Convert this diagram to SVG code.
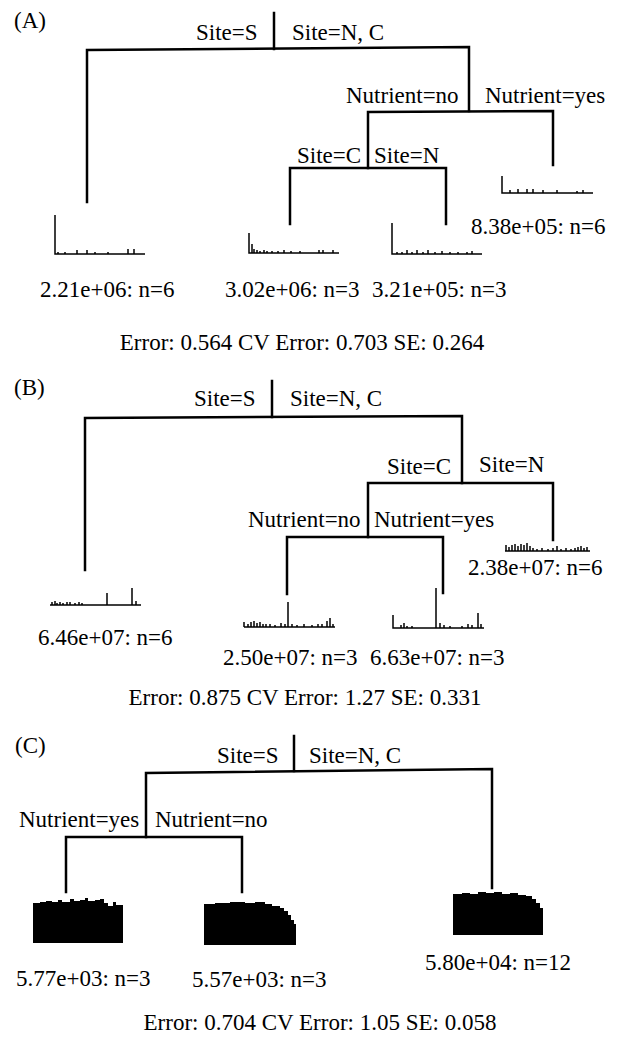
<svg xmlns="http://www.w3.org/2000/svg" width="619" height="1041" viewBox="0 0 619 1041">
<style>
.e{stroke:#000;stroke-width:2.5;fill:none;stroke-linecap:square;stroke-linejoin:miter}
.h{stroke:#000;stroke-width:1.5;fill:none}
.b{fill:#000;stroke:none}
.t{font-family:"Liberation Serif","Times New Roman",serif;font-size:23px;fill:#000}
.m{text-anchor:middle}
</style>
<rect width="619" height="1041" fill="#fff"/>

<!-- Panel A -->
<g id="panelA">
<text class="t" x="14" y="28">(A)</text>
<g id="connectorsA">
<path class="e" d="M274,13 V49"/>
<path class="e" d="M87,202 V50 L469,47 V111"/>
<path class="e" d="M368,168 V112 L553,111 V165"/>
<path class="e" d="M290,224 V168 H446 V224"/>
</g>
<g id="A_split1"><text class="t" x="196" y="40">Site=S</text><text class="t" x="292" y="40">Site=N, C</text></g>
<g id="A_split2"><text class="t" x="346" y="103">Nutrient=no</text><text class="t" x="485" y="103">Nutrient=yes</text></g>
<g id="A_split3"><text class="t" x="297" y="163">Site=C</text><text class="t" x="374" y="163">Site=N</text></g>
<g id="A_leaf1">
<path class="h" d="M55,215 V254 H145 M58,254 v-2 M65,254 v-2 M77,254 v-4 M87,254 v-4 M95,254 v-2 M108,254 v-2 M128,254 v-5 M134,254 v-5"/>
<text class="t" x="40" y="297">2.21e+06: n=6</text>
</g>
<g id="A_leaf2">
<path class="h" d="M249,233 V253 H339 M252,253 v-9 M254,253 v-4 M257,253 v-3 M260,253 v-2 M264,253 v-3 M267,253 v-2 M272,253 v-2 M278,253 v-2 M284,253 v-3 M291,253 v-2 M300,253 v-2 M319,253 v-3 M323,253 v-3 M333,253 v-3"/>
<text class="t" x="225" y="297">3.02e+06: n=3</text>
</g>
<g id="A_leaf3">
<path class="h" d="M392,223 V254 H482 M397,254 v-2 M402,254 v-2 M407,254 v-4 M412,254 v-2 M417,254 v-4 M423,254 v-2 M428,254 v-4 M435,254 v-2 M442,254 v-3 M450,254 v-2 M458,254 v-2 M467,254 v-2 M472,254 v-3"/>
<text class="t" x="372" y="297">3.21e+05: n=3</text>
</g>
<g id="A_leaf4">
<path class="h" d="M502,176 V193 H593 M510,193 v-3 M518,193 v-4 M527,193 v-4 M533,193 v-4 M543,193 v-3 M557,193 v-3 M577,193 v-2 M583,193 v-3"/>
<text class="t" x="471" y="234">8.38e+05: n=6</text>
</g>
<text class="t m" x="302" y="350">Error: 0.564 CV Error: 0.703 SE: 0.264</text>
</g>

<!-- Panel B -->
<g id="panelB">
<text class="t" x="14" y="395">(B)</text>
<g id="connectorsB">
<path class="e" d="M272,381 V417"/>
<path class="e" d="M85,570 V418 L462,416 V483"/>
<path class="e" d="M368,537 V483 H553 V540"/>
<path class="e" d="M287,594 V537 H443 V593"/>
</g>
<g id="B_split1"><text class="t" x="194" y="406">Site=S</text><text class="t" x="290" y="406">Site=N, C</text></g>
<g id="B_split2"><text class="t" x="387" y="474">Site=C</text><text class="t" x="479" y="472">Site=N</text></g>
<g id="B_split3"><text class="t" x="248" y="527">Nutrient=no</text><text class="t" x="374" y="527">Nutrient=yes</text></g>
<g id="B_leaf1">
<path class="h" d="M50,605 H141 M52,605 v-3 M55,605 v-4 M57,605 v-2 M60,605 v-3 M63,605 v-2 M67,605 v-3 M70,605 v-3 M75,605 v-2 M79,605 v-3 M82,605 v-2 M107,605 v-12 M132,605 v-17 M136,605 v-4"/>
<text class="t" x="38" y="645">6.46e+07: n=6</text>
</g>
<g id="B_leaf2">
<path class="h" d="M244,627 H335 M244,627 v-5 M248,627 v-3 M251,627 v-5 M254,627 v-6 M257,627 v-4 M260,627 v-5 M263,627 v-3 M266,627 v-3 M270,627 v-3 M275,627 v-2 M281,627 v-4 M285,627 v-3 M288,627 v-25 M292,627 v-3 M297,627 v-2 M304,627 v-3 M312,627 v-2 M318,627 v-3 M322,627 v-3 M327,627 v-6 M330,627 v-9 M333,627 v-3"/>
<text class="t" x="223" y="665">2.50e+07: n=3</text>
</g>
<g id="B_leaf3">
<path class="h" d="M393,615 V628 H484 M401,628 v-3 M404,628 v-5 M407,628 v-2 M412,628 v-2 M436,628 v-40 M440,628 v-5 M444,628 v-3 M450,628 v-2 M462,628 v-2 M468,628 v-4 M472,628 v-3 M478,628 v-15 M481,628 v-4"/>
<text class="t" x="370" y="665">6.63e+07: n=3</text>
</g>
<g id="B_leaf4">
<path class="h" d="M505,551 H590 M506,551 v-6 M509,551 v-4 M512,551 v-6 M515,551 v-7 M518,551 v-5 M521,551 v-7 M524,551 v-6 M527,551 v-8 M530,551 v-5 M533,551 v-3 M537,551 v-2 M542,551 v-3 M548,551 v-2 M553,551 v-3 M557,551 v-5 M561,551 v-2 M566,551 v-3 M571,551 v-2 M575,551 v-3 M578,551 v-4 M581,551 v-5 M584,551 v-3 M587,551 v-4"/>
<text class="t" x="468" y="575">2.38e+07: n=6</text>
</g>
<text class="t m" x="305" y="705">Error: 0.875 CV Error: 1.27 SE: 0.331</text>
</g>

<!-- Panel C -->
<g id="panelC">
<text class="t" x="15" y="753">(C)</text>
<g id="connectorsC">
<path class="e" d="M294,736 V771"/>
<path class="e" d="M146,837 V773 L492,769 V888"/>
<path class="e" d="M66,892 V837 H242 V892"/>
</g>
<g id="C_split1"><text class="t" x="217" y="763">Site=S</text><text class="t" x="309" y="763">Site=N, C</text></g>
<g id="C_split2"><text class="t" x="19" y="827">Nutrient=yes</text><text class="t" x="155" y="827">Nutrient=no</text></g>
<g id="C_leaf1">
<path class="b" d="M33,943 V903 H40 V902 H46 V901 H52 V902 H58 V900 H62 V902 H70 V899 H74 V901 H80 V900 H85 V898 H88 V901 H95 V900 H100 V899 H104 V903 H108 V906 H113 V902 H116 V905 H123 V943 Z"/>
<text class="t" x="16" y="986">5.77e+03: n=3</text>
</g>
<g id="C_leaf2">
<path class="b" d="M204,945 V904 H215 V903 H230 V902 H245 V903 H255 V902 H265 V904 H272 V906 H280 V908 H284 V911 H288 V915 H291 V920 H294 V924 H296 V945 Z"/>
<text class="t" x="192" y="987">5.57e+03: n=3</text>
</g>
<g id="C_leaf3">
<path class="b" d="M453,935 V894 H462 V893 H470 V894 H478 V892 H486 V893 H494 V892 H502 V894 H510 V893 H518 V895 H526 V896 H532 V899 H536 V903 H540 V908 H543 V935 Z"/>
<text class="t" x="425" y="970">5.80e+04: n=12</text>
</g>
<text class="t m" x="320" y="1030">Error: 0.704 CV Error: 1.05 SE: 0.058</text>
</g>
</svg>
